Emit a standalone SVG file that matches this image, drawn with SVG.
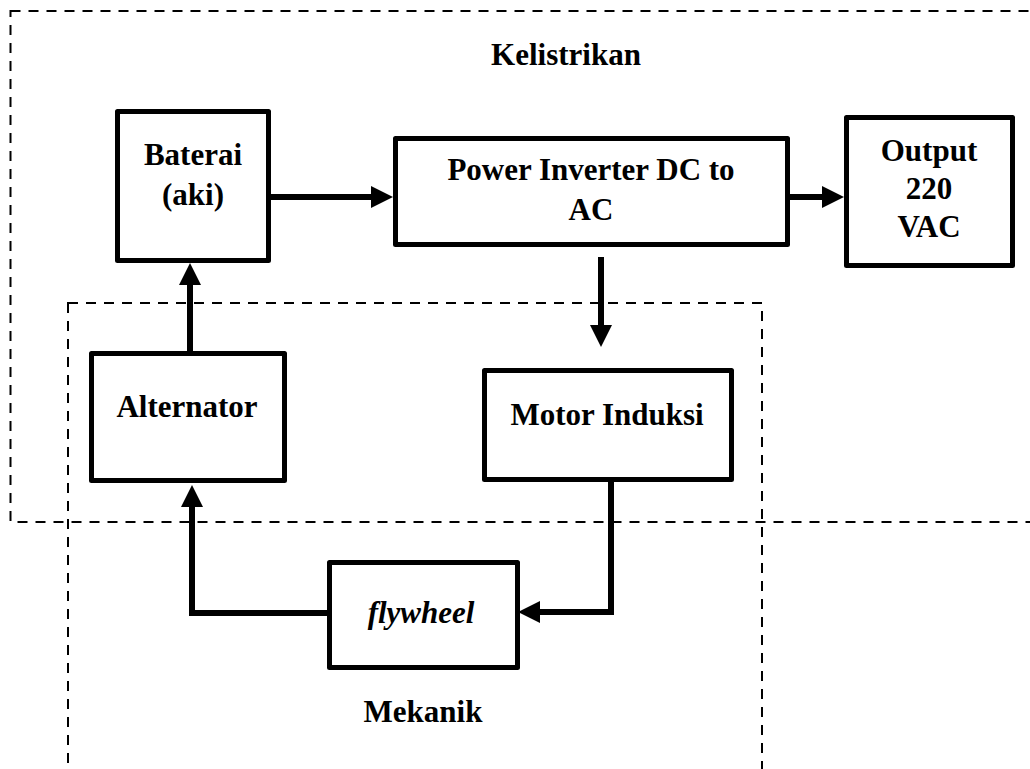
<svg xmlns="http://www.w3.org/2000/svg" width="1030" height="769" viewBox="0 0 1030 769">
  <style>
    .box { fill: #ffffff; stroke: #000000; stroke-width: 5; stroke-linejoin: round; }
    .dash { fill: none; stroke: #000000; stroke-width: 2; stroke-dasharray: 10 8; }
    .conn { fill: none; stroke: #000000; stroke-width: 6; stroke-linejoin: miter; marker-end: url(#arrow); }
    .t { font-family: "Liberation Serif", "Times New Roman", serif; font-weight: bold; font-size: 31px; fill: #000000; text-anchor: middle; }
    .ti { font-style: italic; }
  </style>
  <defs>
    <marker id="arrow" markerUnits="userSpaceOnUse" markerWidth="22" markerHeight="22" refX="2" refY="11" orient="auto">
      <path d="M0,0 L22,11 L0,22 Z" fill="#000000"/>
    </marker>
  </defs>
  <rect width="1030" height="769" fill="#ffffff"/>

  <g id="region-kelistrikan">
    <rect class="dash" x="10.5" y="11" width="1040" height="511"/>
    <text class="t" x="566" y="65">Kelistrikan</text>
  </g>
  <g id="region-mekanik">
    <rect class="dash" x="68" y="303" width="694" height="490"/>
    <text class="t" x="423" y="722">Mekanik</text>
  </g>

  <g id="connectors">
    <path class="conn" d="M271,197 H373"/>
    <path class="conn" d="M790,197 H824"/>
    <path class="conn" d="M601,257 V327"/>
    <path class="conn" d="M190,351 V283"/>
    <path class="conn" d="M329,613 H192 V505"/>
    <path class="conn" d="M611,482 V612 H538"/>
  </g>

  <g id="baterai">
    <rect class="box" x="117.5" y="111.5" width="151" height="149"/>
    <text class="t" x="193" y="165">Baterai</text>
    <text class="t" x="193" y="205">(aki)</text>
  </g>
  <g id="inverter">
    <rect class="box" x="395.5" y="138.5" width="392" height="106"/>
    <text class="t" x="591" y="180">Power Inverter DC to</text>
    <text class="t" x="591" y="220">AC</text>
  </g>
  <g id="output">
    <rect class="box" x="846.5" y="117.5" width="166" height="148"/>
    <text class="t" x="929" y="161">Output</text>
    <text class="t" x="929" y="199">220</text>
    <text class="t" x="929" y="237">VAC</text>
  </g>
  <g id="alternator">
    <rect class="box" x="91.5" y="353.5" width="193" height="127"/>
    <text class="t" x="187" y="417">Alternator</text>
  </g>
  <g id="motor-induksi">
    <rect class="box" x="484.5" y="370.5" width="247" height="109"/>
    <text class="t" x="607" y="425">Motor Induksi</text>
  </g>
  <g id="flywheel">
    <rect class="box" x="329.5" y="562.5" width="188" height="105"/>
    <text class="t ti" x="421" y="623">flywheel</text>
  </g>
</svg>
